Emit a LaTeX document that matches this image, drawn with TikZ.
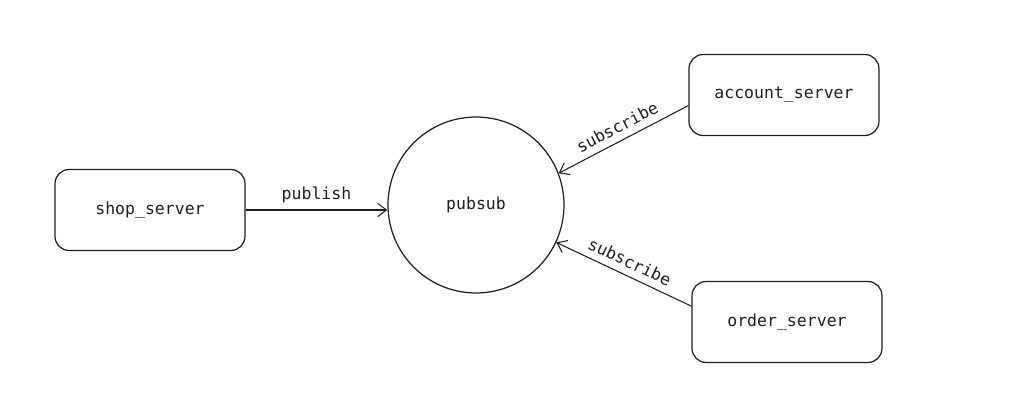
\documentclass[tikz,border=0pt]{standalone}
\usepackage{fontspec}
\setmonofont{DejaVu Sans Mono}
\usepackage{xcolor}
\definecolor{tinta}{RGB}{30,30,30}
\usepackage{tikz}
\usetikzlibrary{arrows.meta, positioning}

\begin{document}
\begin{tikzpicture}[
    x=0.02cm, y=-0.02cm,
    server/.style={
      rectangle, rounded corners=8pt,
      draw=tinta, line width=0.7pt,
      minimum width=3.8cm, minimum height=1.62cm,
      font=\ttfamily\fontsize{9.4}{11}\selectfont, text=tinta,
      inner sep=0pt
    },
    broker/.style={
      circle, draw=tinta, line width=0.7pt,
      minimum size=3.52cm, inner sep=0pt,
      font=\ttfamily\fontsize{9.4}{11}\selectfont, text=tinta
    },
    arrow/.style={-{Straight Barb[length=5pt, width=7.5pt]}, line width=0.6pt, color=tinta},
    tag/.style={font=\ttfamily\fontsize{9.4}{11}\selectfont, text=tinta, inner sep=4pt}
  ]

  \useasboundingbox (0,0) rectangle (1012,418);

  % Broker
  \node[broker] (pubsub) at (476,205) {pubsub};

  % Servers
  \node[server] (shop_server)    at (150,210) {shop\_server};
  \node[server] (account_server) at (784,95)  {account\_server};
  \node[server] (order_server)   at (787,322) {order\_server};

  % Arrows
  \draw[arrow] (shop_server.east) -- (shop_server.east -| pubsub.west)
    node[tag, midway, above] {publish};
  \draw[arrow] ([yshift=-6pt]account_server.west) -- (pubsub.21)
    node[tag, midway, sloped, above] {subscribe};
  \draw[arrow] ([yshift=9pt]order_server.west) -- (pubsub.-25)
    node[tag, midway, sloped, above] {subscribe};

\end{tikzpicture}
\end{document}
